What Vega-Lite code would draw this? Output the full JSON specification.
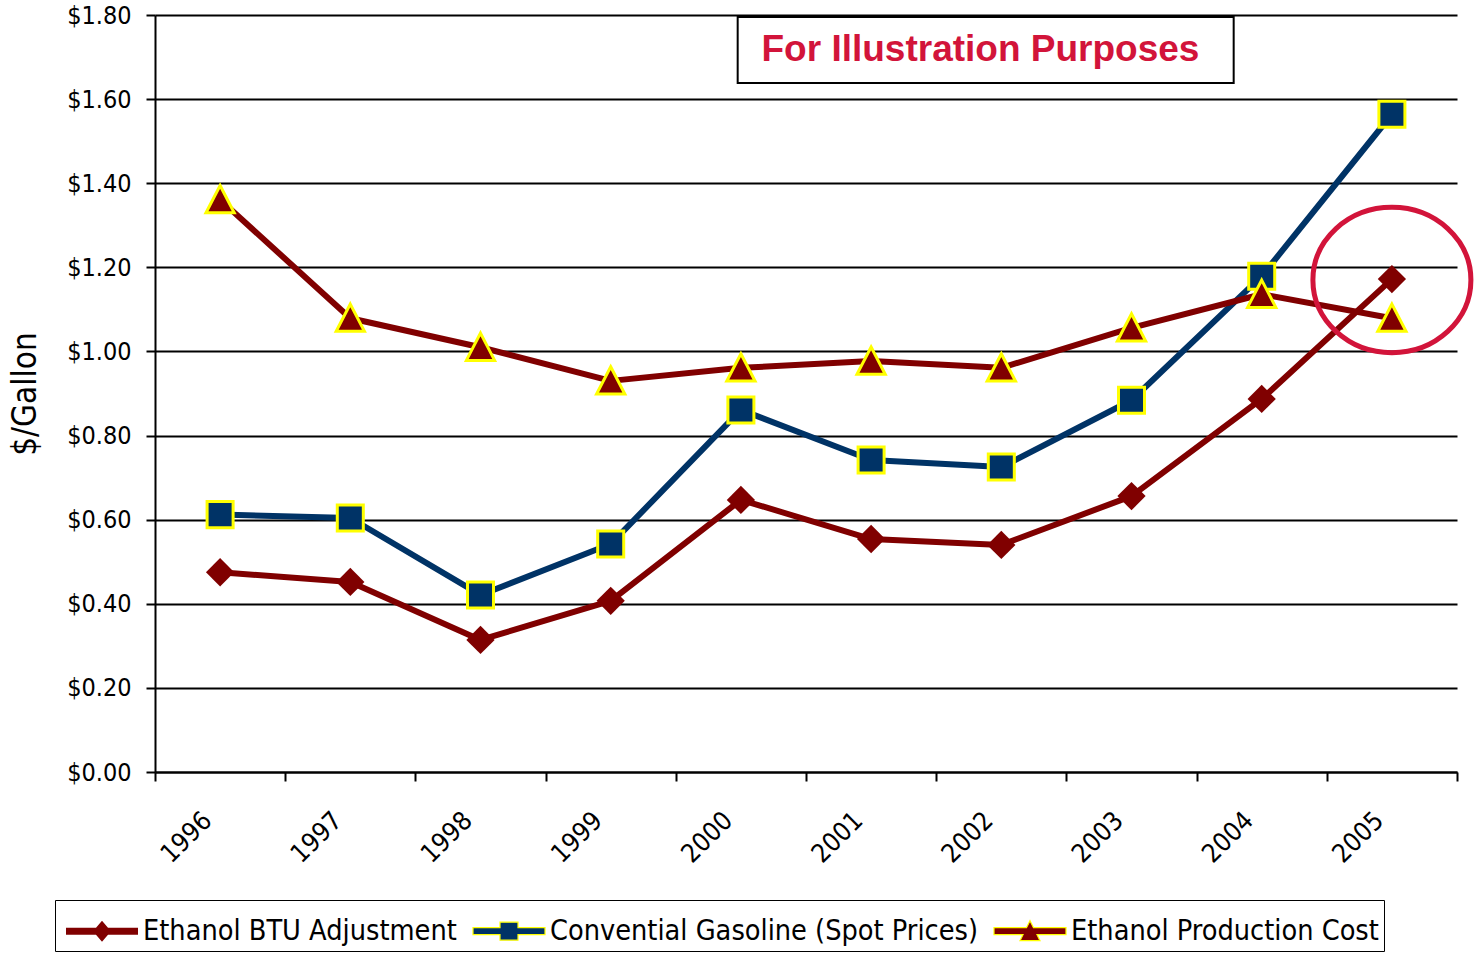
{
  "$schema": "https://vega.github.io/schema/vega-lite/v6.json",
  "width": 1302,
  "height": 757,
  "autosize": {"type": "none"},
  "padding": {"left": 155, "top": 15, "right": 18, "bottom": 185},
  "background": "white",
  "config": {
    "font": "DejaVu Sans Condensed, Liberation Sans Narrow, sans-serif",
    "view": {"stroke": null}
  },
  "datasets": {
    "prices": [
      {"year": "1996", "series": "Ethanol BTU Adjustment", "value": 0.475},
      {"year": "1997", "series": "Ethanol BTU Adjustment", "value": 0.452},
      {"year": "1998", "series": "Ethanol BTU Adjustment", "value": 0.314},
      {"year": "1999", "series": "Ethanol BTU Adjustment", "value": 0.407},
      {"year": "2000", "series": "Ethanol BTU Adjustment", "value": 0.647},
      {"year": "2001", "series": "Ethanol BTU Adjustment", "value": 0.554},
      {"year": "2002", "series": "Ethanol BTU Adjustment", "value": 0.540},
      {"year": "2003", "series": "Ethanol BTU Adjustment", "value": 0.656},
      {"year": "2004", "series": "Ethanol BTU Adjustment", "value": 0.887},
      {"year": "2005", "series": "Ethanol BTU Adjustment", "value": 1.172},
      {"year": "1996", "series": "Convential Gasoline (Spot Prices)", "value": 0.612},
      {"year": "1997", "series": "Convential Gasoline (Spot Prices)", "value": 0.604},
      {"year": "1998", "series": "Convential Gasoline (Spot Prices)", "value": 0.421},
      {"year": "1999", "series": "Convential Gasoline (Spot Prices)", "value": 0.542},
      {"year": "2000", "series": "Convential Gasoline (Spot Prices)", "value": 0.861},
      {"year": "2001", "series": "Convential Gasoline (Spot Prices)", "value": 0.742},
      {"year": "2002", "series": "Convential Gasoline (Spot Prices)", "value": 0.725},
      {"year": "2003", "series": "Convential Gasoline (Spot Prices)", "value": 0.884},
      {"year": "2004", "series": "Convential Gasoline (Spot Prices)", "value": 1.179},
      {"year": "2005", "series": "Convential Gasoline (Spot Prices)", "value": 1.564},
      {"year": "1996", "series": "Ethanol Production Cost", "value": 1.361},
      {"year": "1997", "series": "Ethanol Production Cost", "value": 1.079},
      {"year": "1998", "series": "Ethanol Production Cost", "value": 1.010},
      {"year": "1999", "series": "Ethanol Production Cost", "value": 0.930},
      {"year": "2000", "series": "Ethanol Production Cost", "value": 0.961},
      {"year": "2001", "series": "Ethanol Production Cost", "value": 0.977},
      {"year": "2002", "series": "Ethanol Production Cost", "value": 0.961},
      {"year": "2003", "series": "Ethanol Production Cost", "value": 1.056},
      {"year": "2004", "series": "Ethanol Production Cost", "value": 1.136},
      {"year": "2005", "series": "Ethanol Production Cost", "value": 1.079}
    ],
    "note": [{"label": "For Illustration Purposes"}]
  },
  "data": {"name": "prices"},
  "layer": [
    {
      "mark": {"type": "line", "strokeWidth": 6, "strokeJoin": "round"},
      "encoding": {
        "x": {
          "field": "year", "type": "ordinal", "bandPosition": 0.5,
          "scale": {"type": "band", "paddingInner": 0, "paddingOuter": 0},
          "axis": {
            "title": null, "tickBand": "extent", "grid": false,
            "labelAngle": -45, "labelAlign": "right", "labelBaseline": "middle",
            "labelFontSize": 26, "labelColor": "black", "labelPadding": 35, "labelOffset": -13,
            "tickColor": "black", "tickWidth": 2, "tickSize": 9,
            "domainColor": "black", "domainWidth": 2
          }
        },
        "y": {
          "field": "value", "type": "quantitative",
          "scale": {"domain": [0, 1.8], "nice": false},
          "axis": {
            "values": [0, 0.2, 0.4, 0.6, 0.8, 1.0, 1.2, 1.4, 1.6, 1.8],
            "format": "$.2f", "grid": true, "gridColor": "black", "gridWidth": 2, "gridOpacity": 1,
            "domainColor": "black", "domainWidth": 2,
            "tickColor": "black", "tickWidth": 2, "tickSize": 9,
            "labelFontSize": 25, "labelColor": "black", "labelPadding": 15,
            "title": "$/Gallon", "titleFontSize": 33, "titleFontWeight": "normal",
            "titleColor": "black", "titlePadding": 24
          }
        },
        "color": {
          "field": "series", "type": "nominal",
          "scale": {
            "domain": ["Ethanol BTU Adjustment", "Convential Gasoline (Spot Prices)", "Ethanol Production Cost"],
            "range": ["#800000", "#003366", "#800000"]
          },
          "legend": null
        }
      }
    },
    {
      "mark": {"type": "point", "filled": true, "opacity": 1, "strokeWidth": 3},
      "encoding": {
        "x": {"field": "year", "type": "ordinal", "bandPosition": 0.5},
        "y": {"field": "value", "type": "quantitative"},
        "shape": {
          "field": "series", "type": "nominal",
          "scale": {
            "domain": ["Ethanol BTU Adjustment", "Convential Gasoline (Spot Prices)", "Ethanol Production Cost"],
            "range": ["M0,-1L1,0L0,1L-1,0Z", "M-0.92,-0.92H0.92V0.92H-0.92Z", "M0,-1L1,0.93L-1,0.93Z"]
          },
          "legend": null
        },
        "fill": {
          "field": "series", "type": "nominal",
          "scale": {
            "domain": ["Ethanol BTU Adjustment", "Convential Gasoline (Spot Prices)", "Ethanol Production Cost"],
            "range": ["#800000", "#003366", "#800000"]
          },
          "legend": null
        },
        "stroke": {
          "field": "series", "type": "nominal",
          "scale": {
            "domain": ["Ethanol BTU Adjustment", "Convential Gasoline (Spot Prices)", "Ethanol Production Cost"],
            "range": ["transparent", "#FFFF00", "#FFFF00"]
          },
          "legend": null
        },
        "size": {"value": 800}
      }
    },
    {
      "data": {"name": "note"},
      "mark": {"type": "point", "shape": "M-1,-0.1331H1V0.1331H-1Z", "filled": true, "fill": "white", "stroke": "black", "strokeWidth": 2, "opacity": 1, "size": 246016},
      "encoding": {
        "x": {"datum": "2002", "type": "ordinal", "bandPosition": 0.38},
        "y": {"datum": 1.717, "type": "quantitative"}
      }
    },
    {
      "data": {"name": "note"},
      "mark": {"type": "text", "font": "Liberation Sans, Arial, sans-serif", "fontSize": 37, "fontWeight": "bold", "color": "#D2143A", "align": "center", "baseline": "middle"},
      "encoding": {
        "x": {"datum": "2002", "type": "ordinal", "bandPosition": 0.34},
        "y": {"datum": 1.717, "type": "quantitative"},
        "text": {"field": "label"}
      }
    },
    {
      "data": {"name": "note"},
      "mark": {"type": "point", "shape": "M-1,0A1,0.92,0,1,0,1,0A1,0.92,0,1,0,-1,0Z", "filled": false, "stroke": "#D2143A", "strokeWidth": 5, "opacity": 1, "size": 24964},
      "encoding": {
        "x": {"datum": "2005", "type": "ordinal", "bandPosition": 0.5},
        "y": {"datum": 1.17, "type": "quantitative"}
      }
    },
    {
      "mark": {"type": "point", "filled": true, "opacity": 0},
      "encoding": {
        "shape": {
          "field": "series", "type": "nominal",
          "scale": {
            "domain": ["Ethanol BTU Adjustment", "Convential Gasoline (Spot Prices)", "Ethanol Production Cost"],
            "range": [
              "M-0.8,-0.14H0.40L0.64,-0.42L0.88,-0.14H2.08V0.14H0.88L0.64,0.42L0.40,0.14H-0.8Z",
              "M-0.8,-0.14H0.28V-0.36H1.0V-0.14H2.08V0.14H1.0V0.36H0.28V0.14H-0.8Z",
              "M-0.8,-0.14H0.50L0.64,-0.42L0.78,-0.14H2.08V0.14H0.92L1.04,0.38H0.24L0.36,0.14H-0.8Z"
            ]
          },
          "legend": {
            "title": null, "orient": "none", "legendX": -100, "legendY": 885,
            "direction": "horizontal", "symbolSize": 2500, "symbolStrokeWidth": 1.2, "symbolOpacity": 1,
            "labelFontSize": 28.6, "labelColor": "black", "labelLimit": 800, "labelOffset": 31,
            "columnPadding": 10, "padding": 5, "strokeColor": "black",
            "encode": {"legend": {"update": {"strokeWidth": {"value": 2}}}}
          }
        },
        "fill": {
          "field": "series", "type": "nominal",
          "scale": {
            "domain": ["Ethanol BTU Adjustment", "Convential Gasoline (Spot Prices)", "Ethanol Production Cost"],
            "range": ["#800000", "#003366", "#800000"]
          }
        },
        "stroke": {
          "field": "series", "type": "nominal",
          "scale": {
            "domain": ["Ethanol BTU Adjustment", "Convential Gasoline (Spot Prices)", "Ethanol Production Cost"],
            "range": ["transparent", "#FFFF00", "#FFFF00"]
          }
        }
      }
    }
  ],
  "resolve": {
    "scale": {"shape": "independent", "fill": "independent", "stroke": "independent", "color": "independent"}
  }
}
